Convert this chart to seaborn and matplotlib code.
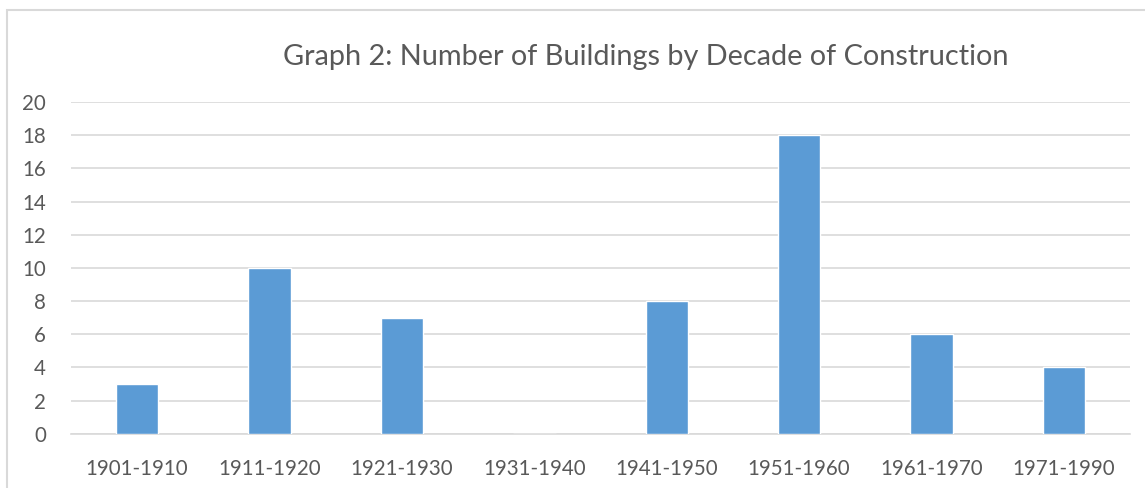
import pandas as pd
import matplotlib.pyplot as plt
import matplotlib.patches as patches
import seaborn as sns

# Values
decades = ['1901-1910', '1911-1920', '1921-1930', '1931-1940',
           '1941-1950', '1951-1960', '1961-1970', '1971-1990']
buildings = [3, 10, 7, 0, 8, 18, 6, 4]
y_ticks = [0, 2, 4, 6, 8, 10, 12, 14, 16, 18, 20]

df = pd.DataFrame({'Decade': decades, 'Buildings': buildings})

sns.set_style('white')
plt.rcParams['font.family'] = ['Lato', 'DejaVu Sans']
text_color = '#595959'

fig = plt.figure(figsize=(11.45, 4.88), dpi=100)
ax = fig.add_axes([0.062, 0.111, 0.925, 0.680])

sns.barplot(data=df, x='Decade', y='Buildings', color='#5B9BD5',
            width=0.32, saturation=1, ax=ax, zorder=3)

ax.set_ylim(0, 20)
ax.set_yticks(y_ticks)
ax.yaxis.grid(True, color='#D9D9D9', linewidth=1.2, zorder=0)
ax.set_axisbelow(True)
for s in ['top', 'right', 'left']:
    ax.spines[s].set_visible(False)
ax.spines['bottom'].set_color('#D9D9D9')
ax.spines['bottom'].set_linewidth(1.2)
ax.tick_params(axis='both', length=0, labelsize=14.8, labelcolor=text_color)
ax.tick_params(axis='y', pad=18)
ax.tick_params(axis='x', pad=18)
ax.set_xlabel('')
ax.set_ylabel('')

fig.text(0.564, 0.883, 'Graph 2: Number of Buildings by Decade of Construction',
         ha='center', va='center', fontsize=20.8, color=text_color)

# chart frame
fig.patches.append(patches.Rectangle((0.006, -0.05), 1.1, 1.03, transform=fig.transFigure,
                                     fill=False, edgecolor='#D9D9D9', linewidth=1.5))

fig.savefig('out.png', dpi=100)
